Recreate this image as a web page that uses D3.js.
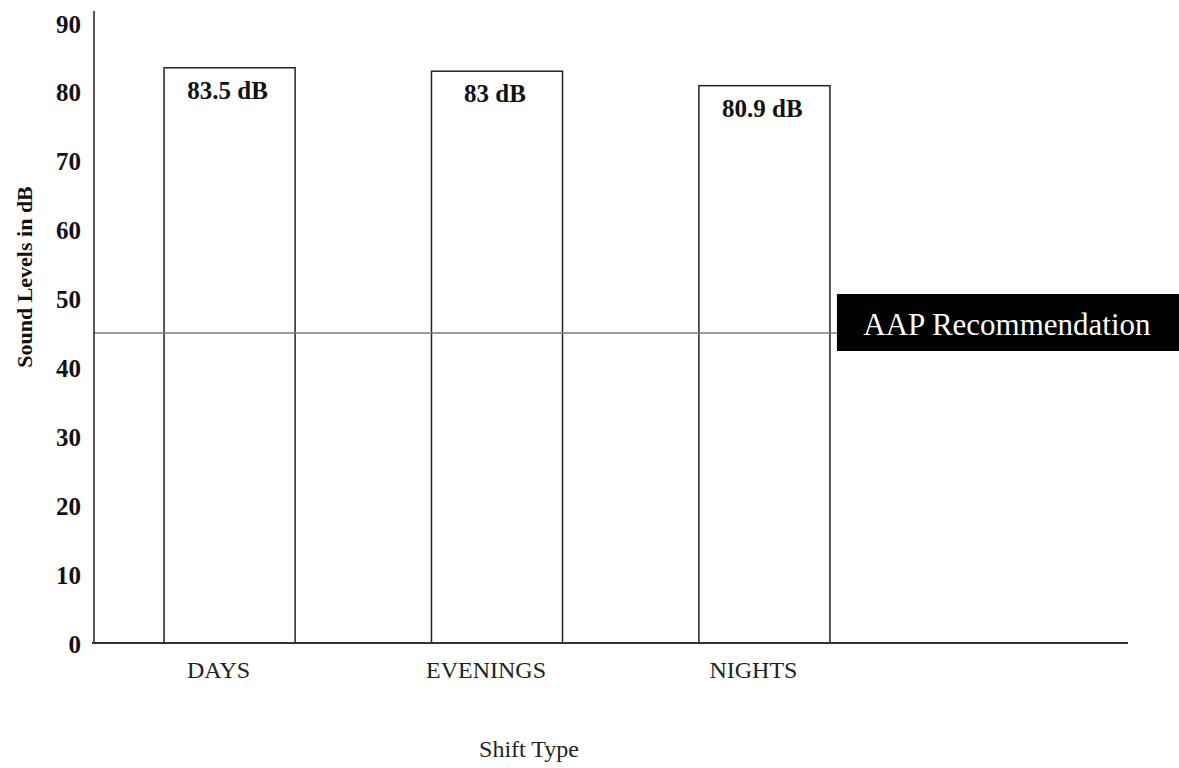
<!DOCTYPE html>
<html>
<head>
<meta charset="utf-8">
<script src="https://cdn.jsdelivr.net/npm/d3@7"></script>
<style>
  html, body { margin: 0; padding: 0; background: #fff; }
  svg { display: block; }
  text { font-family: "Liberation Serif", "Times New Roman", serif; }
</style>
</head>
<body>
<svg id="chart" width="1179" height="768"></svg>
<script>
// Average sound level by shift
const categories = ["DAYS", "EVENINGS", "NIGHTS"];
const soundLevels = [83.5, 83, 80.9];
const valueLabels = ["83.5 dB", "83 dB", "80.9 dB"];
const yTicks = [0, 10, 20, 30, 40, 50, 60, 70, 80, 90];
const recommendation = 45;
const recommendationLabel = "AAP Recommendation";
const xTitle = "Shift Type";
const yTitle = "Sound Levels in dB";

const svg = d3.select("#chart");
const W = 1179;

const axisLeft = 94, axisRight = 1128, axisTop = 11, baseline = 643;

const x = d3.scaleBand()
  .domain(categories)
  .range([axisLeft, 900])
  .paddingInner(0.51)
  .paddingOuter(0.262);

const y = d3.scaleLinear()
  .domain([0, 90])
  .range([baseline, 23]);

// Bars
svg.append("g")
  .selectAll("rect")
  .data(categories)
  .join("rect")
  .attr("x", d => x(d))
  .attr("y", (d, i) => y(soundLevels[i]))
  .attr("width", x.bandwidth())
  .attr("height", (d, i) => y(0) - y(soundLevels[i]))
  .attr("fill", "#fff")
  .attr("stroke", "#222")
  .attr("stroke-width", 1.5);

// Value labels inside bars
svg.append("g")
  .selectAll("text")
  .data(categories)
  .join("text")
  .attr("x", d => x(d) + x.bandwidth() / 2 - 2)
  .attr("y", (d, i) => y(soundLevels[i]) + 31)
  .attr("text-anchor", "middle")
  .attr("font-size", 25)
  .attr("font-weight", "bold")
  .attr("fill", "#111")
  .text((d, i) => valueLabels[i]);

// Recommendation line and label box
const boxLeft = x("NIGHTS") + x.bandwidth() + 7;
const yRec = y(recommendation);
svg.append("line")
  .attr("x1", axisLeft).attr("x2", boxLeft)
  .attr("y1", yRec).attr("y2", yRec)
  .attr("stroke", "#7a7a7a")
  .attr("stroke-width", 1.5);

svg.append("rect")
  .attr("x", boxLeft)
  .attr("y", yRec - 39)
  .attr("width", W - boxLeft)
  .attr("height", 57)
  .attr("fill", "#000");

svg.append("text")
  .attr("x", (boxLeft + W) / 2 - 1)
  .attr("y", yRec + 2)
  .attr("text-anchor", "middle")
  .attr("font-size", 31)
  .attr("fill", "#fff")
  .text(recommendationLabel);

// Y axis labels
const yAxis = d3.axisLeft(y).tickValues(yTicks).tickSize(0).tickPadding(13);
const gy = svg.append("g")
  .attr("transform", `translate(${axisLeft},0)`)
  .call(yAxis);
gy.select(".domain").remove();
gy.selectAll("text")
  .attr("font-family", "Liberation Serif, Times New Roman, serif")
  .attr("font-size", 25)
  .attr("font-weight", "bold")
  .attr("fill", "#111")
  .attr("dy", "0.36em");

// X axis labels
const xAxis = d3.axisBottom(x).tickSize(0).tickPadding(0);
const gx = svg.append("g")
  .attr("transform", `translate(0,${baseline})`)
  .call(xAxis);
gx.select(".domain").remove();
gx.selectAll("text")
  .attr("font-family", "Liberation Serif, Times New Roman, serif")
  .attr("font-size", 24)
  .attr("fill", "#222")
  .attr("dy", null)
  .attr("x", -11)
  .attr("y", 35);

// Axis lines
svg.append("line")
  .attr("x1", axisLeft).attr("x2", axisLeft)
  .attr("y1", axisTop).attr("y2", baseline)
  .attr("stroke", "#222").attr("stroke-width", 1.5);
svg.append("line")
  .attr("x1", axisLeft - 2).attr("x2", axisRight)
  .attr("y1", baseline).attr("y2", baseline)
  .attr("stroke", "#333").attr("stroke-width", 2);

// Axis titles
svg.append("text")
  .attr("x", 529)
  .attr("y", 757)
  .attr("text-anchor", "middle")
  .attr("font-size", 24)
  .attr("fill", "#222")
  .text(xTitle);

svg.append("text")
  .attr("transform", "translate(32,277) rotate(-90)")
  .attr("text-anchor", "middle")
  .attr("font-size", 22)
  .attr("font-weight", "bold")
  .attr("fill", "#111")
  .text(yTitle);
</script>
</body>
</html>
